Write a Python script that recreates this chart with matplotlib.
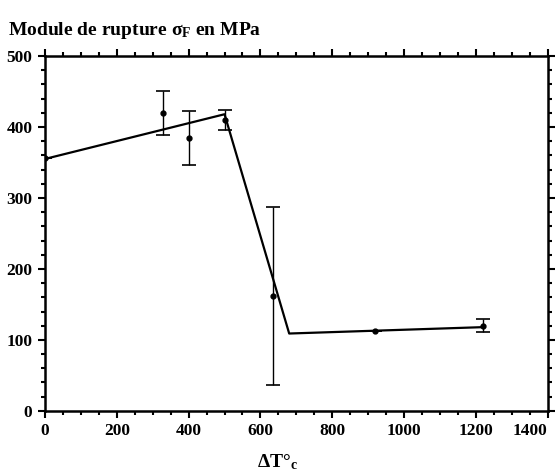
import numpy as np
import matplotlib.pyplot as plt
from matplotlib.ticker import MultipleLocator

# measured points
dT = [0, 330, 400, 500, 635, 920, 1220]
sigma = [357, 420, 385, 410, 162, 113, 120]
err = [0, 31, 38, 14, 125, 0, 9]

# trend line drawn through the data
trend_x = [0, 500, 680, 1220]
trend_y = [355, 418, 109, 118]

plt.rcParams['font.family'] = ['Liberation Serif', 'DejaVu Serif']
plt.rcParams['font.weight'] = 'bold'
plt.rcParams['mathtext.fontset'] = 'custom'
plt.rcParams['mathtext.rm'] = 'Liberation Serif:bold'
plt.rcParams['mathtext.it'] = 'Liberation Serif:bold'
plt.rcParams['mathtext.bf'] = 'Liberation Serif:bold'

fig = plt.figure(figsize=(5.55, 4.75), dpi=100)
ax = fig.add_axes([0.081, 0.135, 0.906, 0.747])

ax.plot(trend_x, trend_y, color='black', lw=1.6, zorder=2)
ax.errorbar(dT, sigma, yerr=err, fmt='o', color='black', ms=3.5,
            elinewidth=1.0, capsize=5, capthick=1.2, zorder=3)

ax.set_xlim(0, 1400)
ax.set_ylim(0, 500)
ax.set_xticks(np.arange(0, 1401, 200))
ax.set_yticks(np.arange(0, 501, 100))
ax.xaxis.set_minor_locator(MultipleLocator(50))
ax.yaxis.set_minor_locator(MultipleLocator(20))
ax.tick_params(which='both', direction='out', top=True, right=True,
               width=1.5, labelsize=12.5, pad=4)
ax.tick_params(which='major', length=5)
ax.tick_params(which='minor', length=3)
for s in ax.spines.values():
    s.set_linewidth(1.8)

fig.text(0.015, 0.935, r'Module de rupture $\sigma_F$ en MPa',
         fontsize=14, fontweight='bold', ha='left', va='center')
fig.text(0.5, 0.027, r'$\Delta$T°$_c$', fontsize=14,
         fontweight='bold', ha='center', va='center')

fig.canvas.draw()
labels = ax.get_xticklabels()
labels[-1].set_horizontalalignment('right')
labels[-1].set_x(1.0)
for lab in ax.get_xticklabels() + ax.get_yticklabels():
    lab.set_fontweight('bold')

fig.savefig('out.png', dpi=100)
